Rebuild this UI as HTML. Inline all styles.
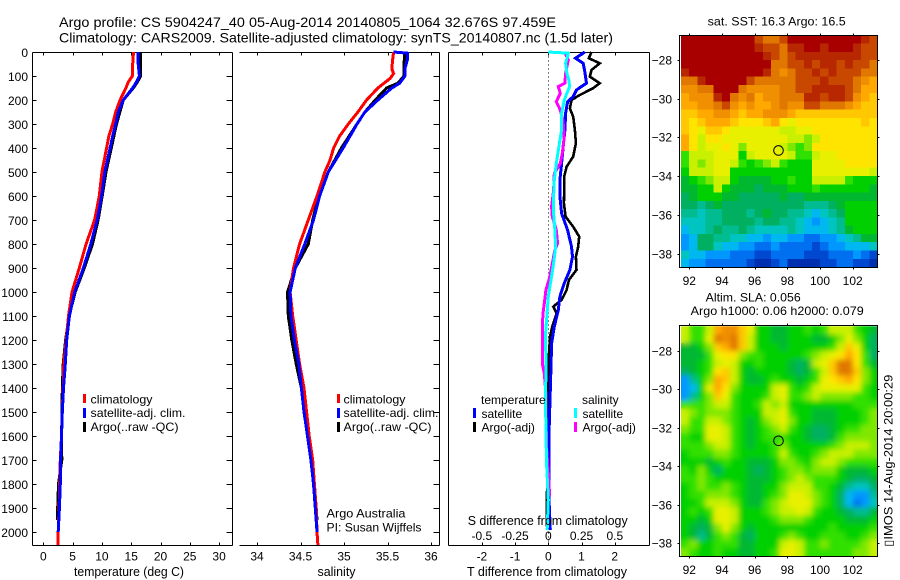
<!DOCTYPE html>
<html lang="en">
<head>
<meta charset="utf-8">
<title>Argo profile</title>
<style>
html,body{margin:0;padding:0;background:#fff;}
svg{display:block;}
text{font-family:"Liberation Sans",Arial,sans-serif;font-size:12px;fill:#000;}
.t14{font-size:14px;}
.t13{font-size:13px;}
</style>
</head>
<body>
<svg id="figure" xmlns="http://www.w3.org/2000/svg" width="900" height="580" viewBox="0 0 900 580">
  <defs>
    <filter id="smooth-field" x="-5%" y="-5%" width="110%" height="110%">
      <feGaussianBlur in="SourceGraphic" stdDeviation="2.6" result="blurred"/>
      <feMerge><feMergeNode in="SourceGraphic"/><feMergeNode in="blurred"/></feMerge>
    </filter>
    <clipPath id="clip-sst"><rect x="681" y="35" width="197" height="232"/></clipPath>
    <clipPath id="clip-sla"><rect x="681" y="326" width="197" height="231"/></clipPath>
  </defs>
  <text class="t14" x="59" y="27" textLength="497" lengthAdjust="spacingAndGlyphs">Argo profile: CS 5904247_40 05-Aug-2014 20140805_1064 32.676S 97.459E</text>
  <text class="t14" x="59" y="42.5" textLength="554" lengthAdjust="spacingAndGlyphs">Climatology: CARS2009. Satellite-adjusted climatology: synTS_20140807.nc (1.5d later)</text>

  <g id="panel-t"></g>
  <g id="panel-s"></g>
  <g id="panel-d"></g>
  <g id="map-sst"></g>
  <g id="map-sla"></g>

  <text class="t13" x="74" y="576" textLength="110" lengthAdjust="spacingAndGlyphs">temperature (deg C)</text>
  <text class="t13" x="317.5" y="576" textLength="38" lengthAdjust="spacingAndGlyphs">salinity</text>
  <text class="t13" x="467" y="576" textLength="160" lengthAdjust="spacingAndGlyphs">T difference from climatology</text>
  <text class="t13" x="467.7" y="525" textLength="160" lengthAdjust="spacingAndGlyphs">S difference from climatology</text>

  <g>
    <rect x="83" y="394" width="3" height="9" fill="#f00"/>
    <rect x="83" y="408" width="3" height="10" fill="#00f"/>
    <rect x="83" y="422" width="3" height="10" fill="#000"/>
    <text x="90.5" y="403.5" textLength="62" lengthAdjust="spacingAndGlyphs">climatology</text>
    <text x="90.5" y="417" textLength="95" lengthAdjust="spacingAndGlyphs">satellite-adj. clim.</text>
    <text x="90.5" y="431" textLength="88" lengthAdjust="spacingAndGlyphs">Argo(..raw -QC)</text>
  </g>
  <g>
    <rect x="337" y="394" width="3" height="9" fill="#f00"/>
    <rect x="337" y="408" width="3" height="10" fill="#00f"/>
    <rect x="337" y="422" width="3" height="10" fill="#000"/>
    <text x="343.5" y="403.5" textLength="62" lengthAdjust="spacingAndGlyphs">climatology</text>
    <text x="343.5" y="417" textLength="95" lengthAdjust="spacingAndGlyphs">satellite-adj. clim.</text>
    <text x="343.5" y="431" textLength="88" lengthAdjust="spacingAndGlyphs">Argo(..raw -QC)</text>
  </g>
  <text x="326.5" y="517.5" textLength="79" lengthAdjust="spacingAndGlyphs">Argo Australia</text>
  <text x="326.5" y="531.5" textLength="95" lengthAdjust="spacingAndGlyphs">PI: Susan Wijffels</text>

  <text x="707.7" y="25.5" textLength="138" lengthAdjust="spacingAndGlyphs">sat. SST: 16.3 Argo: 16.5</text>
  <text x="705.7" y="301.5" textLength="95" lengthAdjust="spacingAndGlyphs">Altim. SLA: 0.056</text>
  <text x="690.7" y="315" textLength="173" lengthAdjust="spacingAndGlyphs">Argo h1000: 0.06 h2000: 0.079</text>
  <text transform="translate(892.7,546.7) rotate(-90)" x="0" y="0" textLength="172" lengthAdjust="spacingAndGlyphs">▯IMOS 14-Aug-2014 20:00:29</text>
</svg>

<script>
// ---------- chart data ----------
const depthTicks = [0,100,200,300,400,500,600,700,800,900,1000,1100,1200,1300,1400,1500,1600,1700,1800,1900,2000];
const tempTicks = [0,5,10,15,20,25,30];
const salTicks = [34,34.5,35,35.5,36];
const salTickLabels = ['34','34.5','35','35.5','36'];
const tDiffTicks = [-2,-1,0,1,2];
const tDiffTickLabels = ['-2','-1','0','1','2'];
const sDiffTicks = [-0.5,-0.25,0,0.25,0.5];
const sDiffTickLabels = ['-0.5','-0.25','0','0.25','0.5'];
const lonTicks = [92,94,96,98,100,102];
const latTicks = [-28,-30,-32,-34,-36,-38];

const tDepths = [0,50,100,125,150,200,250,300,350,400,500,600,700,800,900,1000,1100,1200,1300,1400,1500,1600,1700,1800,1900,2000,2054];
const climT = [15.4,15.25,15.2,14.5,14.1,13.1,12.35,11.85,11.2,10.8,10.0,9.55,8.75,7.3,6.15,4.9,4.3,3.9,3.5,3.4,3.25,3.1,2.9,2.8,2.7,2.55,2.5];
const satT = [16.2,16.2,16.4,15.9,15.25,13.65,12.8,12.35,11.85,11.4,10.5,9.95,9.2,8.1,6.85,5.35,4.45,4.0,3.75,3.45,3.25,3.1,2.95,2.9,2.75,2.55];
const argoTDepths = [0,50,100,125,150,200,300,400,500,600,700,800,900,1000,1100,1200,1300,1400,1500,1600,1700,1800,1900,1950];
const argoT = [16.6,16.6,16.6,16.05,15.35,13.65,12.5,11.6,10.7,10.05,9.35,8.4,7.0,5.45,4.4,3.8,3.4,3.25,3.2,3.1,3.15,2.6,2.45,2.45];

const climSDepths = [0,30,70,90,110,150,200,250,300,350,400,450,500,600,700,800,900,950,1000,1100,1200,1300,1400,1500,1600,1700,1800,1900,2000,2054];
const climS = [35.57,35.56,35.55,35.57,35.53,35.39,35.26,35.16,35.05,34.95,34.88,34.84,34.78,34.69,34.59,34.49,34.42,34.40,34.38,34.41,34.45,34.49,34.54,34.57,34.6,34.64,34.66,34.68,34.69,34.7];
const satSDepths = [0,5,30,70,100,130,150,200,250,300,350,400,500,600,700,800,900,1000,1100,1200,1300,1400,1500,1600,1700,1800,1900,2000];
const satS = [35.57,35.73,35.73,35.7,35.7,35.64,35.55,35.39,35.24,35.15,35.07,34.99,34.82,34.72,34.65,34.55,34.44,34.38,34.39,34.43,34.48,34.51,34.54,34.58,34.62,34.65,34.67,34.69];
const argoSDepths = [0,50,100,130,150,200,250,300,400,500,600,700,800,900,1000,1100,1200,1300,1400,1500,1600,1700,1800,1900,1950];
const argoS = [35.7,35.69,35.69,35.62,35.49,35.36,35.24,35.15,34.97,34.82,34.71,34.64,34.59,34.44,34.35,34.36,34.4,34.45,34.51,34.55,34.58,34.62,34.66,34.68,34.69];

const satTDiffDepths = [0,26,47,82,130,158,186,207,255,325,394,464,533,603,672,742,811,853,908,964,1019,1075,1144,1214,1311,1450,1589,1727,1866,1991];
const satTDiff = [1.1,0.82,1.05,1.1,1.15,0.85,0.75,0.58,0.52,0.5,0.45,0.4,0.35,0.35,0.4,0.58,0.7,0.73,0.65,0.48,0.35,0.3,0.18,0.1,0.08,0.05,0.02,0.02,0.02,0.06];
const argoTDiffDepths = [0,26,47,75,103,130,151,179,200,235,270,325,380,436,478,519,575,630,686,728,769,811,853,908,950,992,1033,1061,1089,1144,1186,1311,1450,1589,1727,1866,1977];
const argoTDiff = [1.3,1.22,1.55,1.3,1.25,1.55,1.35,0.95,0.7,0.65,0.75,0.8,0.83,0.75,0.55,0.48,0.48,0.47,0.52,0.75,0.93,0.9,0.83,0.85,0.62,0.55,0.4,0.15,0.25,0.12,0.05,0,-0.02,0.02,0,-0.05,-0.05];
const satSDiffDepths = [0,5,47,89,117,144,172,200,255,325,394,464,533,603,672,742,811,881,950,1019,1172,1311,1450,1589,1727,1866,1991];
const satSDiff = [0,0.15,0.13,0.14,0.155,0.16,0.14,0.12,0.1,0.1,0.08,0.06,0.045,0.04,0.04,0.05,0.055,0.04,0.02,0,-0.02,-0.018,-0.02,-0.018,-0.012,0,-0.008];
const argoSDiffDepths = [0,33,61,89,130,144,172,207,242,283,353,422,464,506,575,644,686,742,797,825,881,936,992,1047,1089,1144,1214,1297,1339,1422,1519,1658,1797,1852];
const argoSDiff = [0.12,0.15,0.14,0.13,0.125,0.075,0.09,0.06,0.09,0.11,0.12,0.105,0.09,0.045,0.04,0.025,0.03,0.06,0.07,0.05,0.03,0.012,-0.018,-0.03,-0.04,-0.045,-0.045,-0.045,-0.03,-0.018,-0.018,-0.012,0.005,0.01];

const argoLon = 97.459;
const argoLat = -32.676;
const mapColours = {'0':'#a80000','1':'#b82800','2':'#c84800','3':'#e07800','4':'#f09000','5':'#ffa800','6':'#ffc800','7':'#ffe400','8':'#e8f000','9':'#c8f000','a':'#80e800','b':'#30e000','c':'#00d000','d':'#00b830','e':'#00b060','f':'#00bc90','g':'#00c4c0','h':'#00b8f0','i':'#0098ff','j':'#0070f0','k':'#0048d0','l':'#0030b0'};
const sstRows = [
"000000000233200000000012",
"000000000122311001000122",
"000000000012321111111122",
"000000000003322121121223",
"100000000013432212122233",
"331000002333332221222345",
"443300034444332211112355",
"544410343544333112112456",
"554432454554344223334566",
"665544565544456666666666",
"676555677765787777777767",
"678667888888998877777777",
"579778888888899a97777777",
"5798878a88889aba77777777",
"b999888c988889bb98877777",
"b9a9889bcba9bccc88887777",
"c99988cccccccccc88888889",
"dcba99cddddccbcc9999bccc",
"ddcc9cdddedddcccbccccccd",
"edcccddeeeeedeeddddddddd",
"eefedeeeeeeeeeefffedcccc",
"ffgffeeefedeeffghgfecccc",
"gggffeeeefeeffghihgfcccc",
"hggfeffefggggfghhhgfdccc",
"iheeffgghhihhiijjiihgfdd",
"iheeghhiijjijjjjkjiihhhg",
"ghhiiijjjkkjjjjkkkjjjijk",
"hiijjjjjkllkjllllkkjjkkl"
];
const slaRows = [
"9bb954468ccddccbcb999bcd",
"9bb834369ccddcccddca8ace",
"ddca65369cccdcccccb968ce",
"dddb877abbcccccba98757be",
"ddcb989ccbcccded986337bd",
"edcb769cdccccdedb96336ac",
"ifca569cddcbccdcb87657ac",
"ihc857acccc98bcb988888bc",
"ifca68bcccb98bba9aaaabbc",
"bbba99bccb9a9ccccccccbbb",
"9abaaabccc998bccdddcccba",
"9bb99abcdca98accdddcccba",
"abb889bcdcba9bcdeedcbbaa",
"bcc889bcdcbbbccdeedbaaaa",
"bbba99bcdccbacccccba999a",
"cbbbaabccccb9bccba999aaa",
"cccdcbccdddcaabca99abbbb",
"bcacecccdedcbaabaaacdddc",
"bbabccccdddcba9abbbcdeed",
"cbabbabcddcca999bbcdfgge",
"cbbaaabcddcba889abcehiif",
"ccb999acddba9888abcehjig",
"cbcb889cccba9989bccdeffd",
"ccdc889ccccbaaabccccdddc",
"cdeda8acdcccccccccbccccb",
"cdfdbabdecccbabccbbbccba",
"baccbbbddccc989bbabbbba9",
"abccbccddccb889bbbbbbaa9"
];

// ---------- geometry ----------
const SVG_NS = 'http://www.w3.org/2000/svg';
const yDepth = d => 52 + d * 0.24;
const xTemp = v => 43.3 + v * 5.86;
const xSal = v => 257 + (v - 34) * 87;
const xTDiff = v => 548.3 + v * 33.2;
const xSDiff = v => 548.3 + v * 133;
const xLon = lon => 689.3 + (lon - 92) * 16.34;
const ySstLat = lat => 60 + (-28 - lat) * 19.35;
const ySlaLat = lat => 351 + (-28 - lat) * 19.2;

function mk(parent, tag, attrs, content) {
  const el = document.createElementNS(SVG_NS, tag);
  for (const k in attrs) el.setAttribute(k, attrs[k]);
  if (content !== undefined) el.textContent = content;
  parent.appendChild(el);
  return el;
}

function drawFrameLine(parent, x1, y1, x2, y2) {
  const el = mk(parent, 'line', {x1:x1, y1:y1, x2:x2, y2:y2, stroke:'#000', 'stroke-width':1, 'shape-rendering':'crispEdges'});
  
  
}

function drawTick(parent, x1, y1, x2, y2) {
  const el = mk(parent, 'line', {x1:x1, y1:y1, x2:x2, y2:y2, stroke:'#000', 'stroke-width':1, 'shape-rendering':'crispEdges'});
  
  
}

function drawLabel(parent, x, y, anchor, str) {
  const el = mk(parent, 'text', {x:x, y:y, 'text-anchor':anchor}, str);
  
  
}

function drawSeries(parent, name, colour, width, xs, depths, values) {
  const pts = values.map((v, i) => xs(v).toFixed(1) + ',' + yDepth(depths[i]).toFixed(1)).join(' ');
  const el = mk(parent, 'polyline', {points:pts, fill:'none', stroke:colour, 'stroke-width':width, 'stroke-linejoin':'miter', 'shape-rendering':'crispEdges'});
  
  
}

const TOP = 52.5, BOTTOM = 545.5;

// temperature panel
const pT = document.getElementById('panel-t');
drawFrameLine(pT, 32.5, TOP, 232.5, TOP);
drawFrameLine(pT, 32.5, BOTTOM, 232.5, BOTTOM);
drawFrameLine(pT, 32.5, TOP, 32.5, BOTTOM);
drawFrameLine(pT, 232.5, TOP, 232.5, BOTTOM);
depthTicks.forEach(d => {
  const y = Math.round(yDepth(d)) + 0.5;
  drawTick(pT, 32.5, y, 36.5, y);
  drawTick(pT, 226.5, y, 232.5, y);
  drawLabel(pT, 28, y + 4.5, 'end', String(d));
});
tempTicks.forEach(v => {
  const x = Math.round(xTemp(v)) + 0.5;
  drawTick(pT, x, TOP, x, TOP + 3);
  drawTick(pT, x, BOTTOM - 3, x, BOTTOM);
  drawLabel(pT, xTemp(v), 560.5, 'middle', String(v));
});
drawSeries(pT, 'argo-temperature-line', '#000', 3, xTemp, argoTDepths, argoT);
drawSeries(pT, 'climatology-temperature-line', '#f00', 3, xTemp, tDepths, climT);
drawSeries(pT, 'satellite-temperature-line', '#00f', 3, xTemp, tDepths, satT);

// salinity panel
const pS = document.getElementById('panel-s');
drawFrameLine(pS, 239.5, TOP, 439.5, TOP);
drawFrameLine(pS, 239.5, BOTTOM, 439.5, BOTTOM);
drawFrameLine(pS, 439.5, TOP, 439.5, BOTTOM);
depthTicks.forEach(d => {
  const y = Math.round(yDepth(d)) + 0.5;
  drawTick(pS, 433.5, y, 439.5, y);
});
salTicks.forEach((v, i) => {
  const x = Math.round(xSal(v)) + 0.5;
  drawTick(pS, x, TOP, x, TOP + 3);
  drawTick(pS, x, BOTTOM - 3, x, BOTTOM);
  drawLabel(pS, xSal(v), 560.5, 'middle', salTickLabels[i]);
});
drawSeries(pS, 'argo-salinity-line', '#000', 3, xSal, argoSDepths, argoS);
drawSeries(pS, 'climatology-salinity-line', '#f00', 3, xSal, climSDepths, climS);
drawSeries(pS, 'satellite-salinity-line', '#00f', 3, xSal, satSDepths, satS);

// difference panel
const pD = document.getElementById('panel-d');
drawFrameLine(pD, 448.5, TOP, 649.5, TOP);
drawFrameLine(pD, 448.5, BOTTOM, 649.5, BOTTOM);
drawFrameLine(pD, 448.5, TOP, 448.5, BOTTOM);
drawFrameLine(pD, 649.5, TOP, 649.5, BOTTOM);
tDiffTicks.forEach((v, i) => {
  const x = Math.round(xTDiff(v)) + 0.5;
  drawTick(pD, x, TOP, x, TOP + 3);
  drawTick(pD, x, BOTTOM - 3, x, BOTTOM);
  drawLabel(pD, xTDiff(v), 560.5, 'middle', tDiffTickLabels[i]);
});
const zeroLine = mk(pD, 'line', {x1:548.5, y1:TOP, x2:548.5, y2:BOTTOM, stroke:'#000', 'stroke-width':1, 'stroke-dasharray':'1 3', 'shape-rendering':'crispEdges'});


drawSeries(pD, 'argo-temperature-difference-line', '#000', 2.6, xTDiff, argoTDiffDepths, argoTDiff);
drawSeries(pD, 'satellite-temperature-difference-line', '#00f', 3, xTDiff, satTDiffDepths, satTDiff);
drawSeries(pD, 'argo-salinity-difference-line', '#f0f', 3, xSDiff, argoSDiffDepths, argoSDiff);
drawSeries(pD, 'satellite-salinity-difference-line', '#0ff', 3, xSDiff, satSDiffDepths, satSDiff);
sDiffTicks.forEach((v, i) => {
  drawLabel(pD, xSDiff(v), 540, 'middle', sDiffTickLabels[i]);
});
[[473, 408, '#00f', 'satellite', 481.5, 418, 'legend-temperature-satellite'],
 [473, 422, '#000', 'Argo(-adj)', 481.5, 431.5, 'legend-temperature-argo'],
 [574, 408, '#0ff', 'satellite', 582.5, 418, 'legend-salinity-satellite'],
 [574, 422, '#f0f', 'Argo(-adj)', 582.5, 431.5, 'legend-salinity-argo']].forEach(e => {
  const sw = mk(pD, 'rect', {x:e[0], y:e[1], width:3, height:10, fill:e[2]});
  
  
  const tx = mk(pD, 'text', {x:e[4], y:e[5]}, e[3]);
  
  
});
const legT = mk(pD, 'text', {x:481, y:404}, 'temperature');


const legS = mk(pD, 'text', {x:582, y:404}, 'salinity');



// maps
function drawMap(g, rows, yLat, boxTop, boxBottom, labelBaseline, clipId, filterId) {
  const lonLeft = 91.49, lonStep = 12.03 / rows[0].length;
  const latTop = -26.72, latStep = 11.98 / rows.length;
  const clipper = mk(g, 'g', {'clip-path':'url(#' + clipId + ')'});
  
  
  const field = mk(clipper, 'g', filterId ? {filter:'url(#' + filterId + ')'} : {});
  
  
  rows.forEach((row, r) => {
    row.split('').forEach((ch, c) => {
      const x0 = xLon(lonLeft + c * lonStep), x1 = xLon(lonLeft + (c + 1) * lonStep);
      const y0 = yLat(latTop - r * latStep), y1 = yLat(latTop - (r + 1) * latStep);
      const cell = mk(field, 'rect', {x:x0.toFixed(2), y:y0.toFixed(2), width:(x1 - x0 + 0.4).toFixed(2), height:(y1 - y0 + 0.4).toFixed(2), fill:mapColours[ch], 'shape-rendering':'crispEdges'});
      
      
    });
  });
  const bx = mk(g, 'rect', {x:679.5, y:boxTop, width:198, height:boxBottom - boxTop, fill:'none', stroke:'#000', 'stroke-width':1, 'shape-rendering':'crispEdges'});
  
  
  lonTicks.forEach(lon => {
    const x = Math.round(xLon(lon)) + 0.5;
    drawTick(g, x, boxTop - 2, x, boxTop);
    drawTick(g, x, boxBottom, x, boxBottom + 2);
    drawLabel(g, xLon(lon), labelBaseline, 'middle', String(lon));
  });
  latTicks.forEach(lat => {
    const y = Math.round(yLat(lat)) + 0.5;
    drawTick(g, 677.5, y, 679.5, y);
    drawTick(g, 877.5, y, 879.5, y);
    drawLabel(g, 672, y + 4, 'end', String(lat).replace('-', '\u2212'));
  });
  const marker = mk(g, 'circle', {cx:xLon(argoLon), cy:yLat(argoLat), r:4.8, fill:'none', stroke:'#000', 'stroke-width':1});
  
  
}
drawMap(document.getElementById('map-sst'), sstRows, ySstLat, 35.5, 267.5, 285, 'clip-sst', null);
drawMap(document.getElementById('map-sla'), slaRows, ySlaLat, 325.5, 556.5, 574, 'clip-sla', 'smooth-field');
</script>
</body>
</html>
